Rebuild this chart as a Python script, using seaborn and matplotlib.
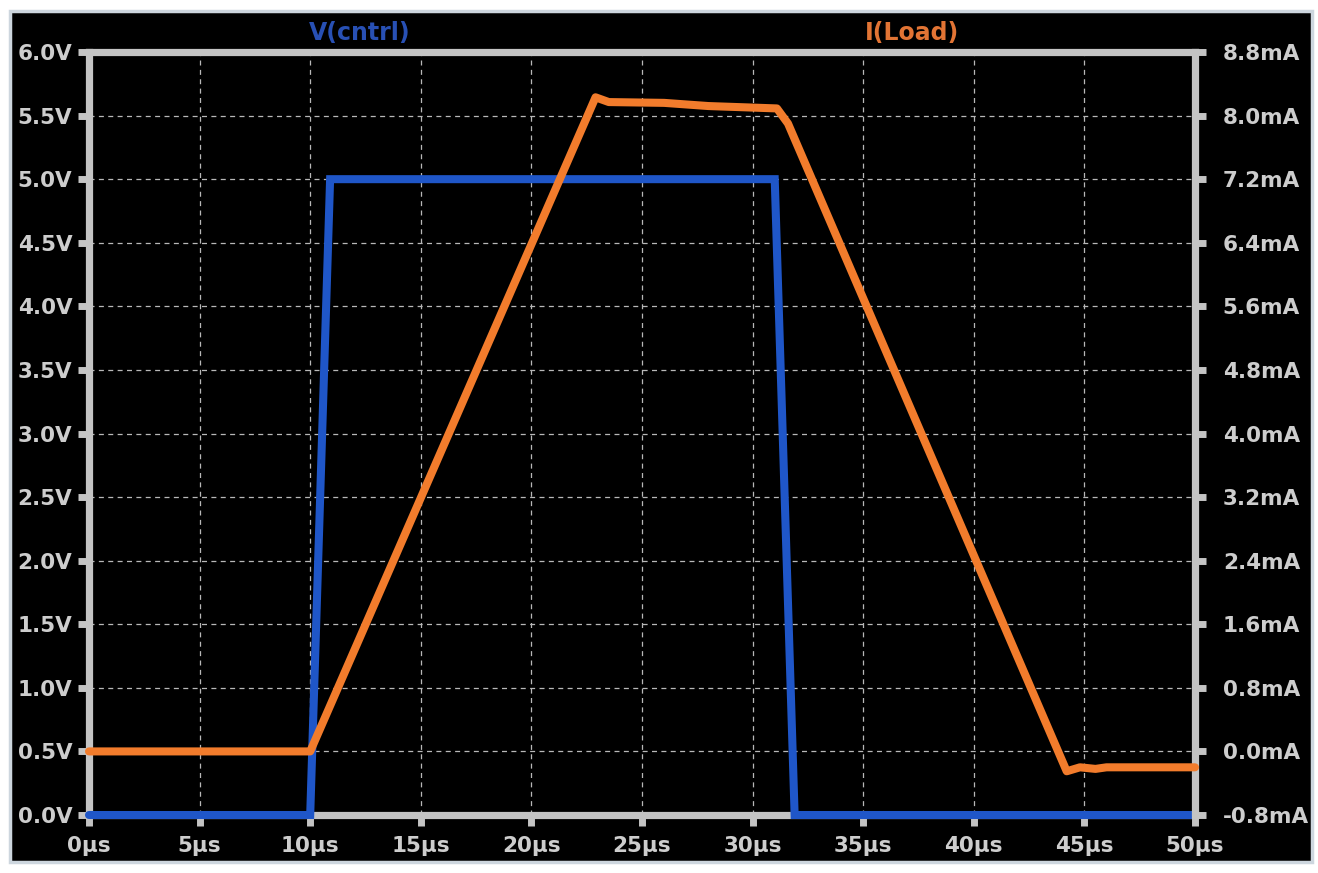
import numpy as np
import pandas as pd
import seaborn as sns
import matplotlib
matplotlib.use("Agg")
import matplotlib.pyplot as plt
from matplotlib.patches import Rectangle

# Waveforms (time in microseconds)
t_cntrl = [0, 10.0, 10.9, 31.0, 31.9, 50]
v_cntrl = [0.0, 0.0, 5.0, 5.0, 0.0, 0.0]

t_load = [0, 10.0, 22.9, 23.5, 26.0, 28.0, 31.1, 31.6, 44.2, 44.8, 45.5, 46.0, 50]
i_load = [0.0, 0.0, 8.23, 8.17, 8.16, 8.12, 8.09, 7.90, -0.25, -0.20, -0.22, -0.20, -0.20]

x_ticks = [0, 5, 10, 15, 20, 25, 30, 35, 40, 45, 50]
v_ticks = [0.0, 0.5, 1.0, 1.5, 2.0, 2.5, 3.0, 3.5, 4.0, 4.5, 5.0, 5.5, 6.0]
i_ticks = [-0.8, 0.0, 0.8, 1.6, 2.4, 3.2, 4.0, 4.8, 5.6, 6.4, 7.2, 8.0, 8.8]

df_v = pd.DataFrame({"t": t_cntrl, "v": v_cntrl})
df_i = pd.DataFrame({"t": t_load, "i": i_load})

sns.set_style("ticks")
plt.rcParams["font.family"] = ["DejaVu Sans"]

BLUE = "#1f56c8"
ORANGE = "#f27c2c"
GRAY = "#c4c4c4"
TXT = "#cdcdcd"

fig = plt.figure(figsize=(13.18, 8.73), dpi=100, facecolor="white")
fig.patches.append(Rectangle((10 / 1318, 11 / 873), 1302 / 1318, 851 / 873,
                             transform=fig.transFigure, facecolor="black",
                             edgecolor="#cdd6de", linewidth=2.5, zorder=-10))

ax = fig.add_axes([89 / 1318, 1 - 815 / 873, (1195 - 89) / 1318, (815 - 52) / 873])
ax.set_facecolor("black")
ax2 = ax.twinx()
ax2.patch.set_visible(False)

sns.lineplot(data=df_v, x="t", y="v", ax=ax, color=BLUE, linewidth=5.8,
             solid_joinstyle="miter", zorder=4, clip_on=False)
sns.lineplot(data=df_i, x="t", y="i", ax=ax2, color=ORANGE, linewidth=5.8,
             zorder=5, clip_on=False)

ax.set_xlim(0, 50)
ax.set_ylim(0, 6)
ax2.set_ylim(-0.8, 8.8)

ax.set_xticks(x_ticks)
ax.set_xticklabels([f"{x}µs" for x in x_ticks])
ax.set_yticks(v_ticks)
ax.set_yticklabels([f"{v:.1f}V" for v in v_ticks])
ax2.set_yticks(i_ticks)
ax2.set_yticklabels([f"{i:.1f}mA" for i in i_ticks])

# left/top/bottom frame sits under the voltage trace; the right frame carries the current axis
for name, s in ax.spines.items():
    s.set_color(GRAY)
    s.set_linewidth(5.2)
    s.set_zorder(1)
    s.set_visible(name != "right")
for name, s in ax2.spines.items():
    s.set_color(GRAY)
    s.set_linewidth(5.2)
    s.set_zorder(1)
    s.set_visible(name == "right")

for a in (ax, ax2):
    a.set_xlabel("")
    a.set_ylabel("")
    a.tick_params(colors=GRAY, labelcolor=TXT, length=8, width=5,
                  labelsize=15.5)
    for lbl in a.get_xticklabels() + a.get_yticklabels():
        lbl.set_fontweight("bold")
ax.tick_params(axis="y", pad=4)
ax.tick_params(axis="x", pad=7)
ax2.tick_params(axis="y", pad=12)

ax.grid(True, color="#b8b8b8", linestyle=(0, (4, 3.5)), linewidth=0.9, zorder=0)
ax.set_axisbelow(True)

fig.text(360 / 1318, 1 - 33 / 873, "V(cntrl)", color="#2850b4", fontsize=17,
         fontweight="bold", ha="center", va="center")
fig.text(912 / 1318, 1 - 33 / 873, "I(Load)", color="#e27434", fontsize=17,
         fontweight="bold", ha="center", va="center")

fig.savefig("out.png", dpi=100, facecolor="white")
